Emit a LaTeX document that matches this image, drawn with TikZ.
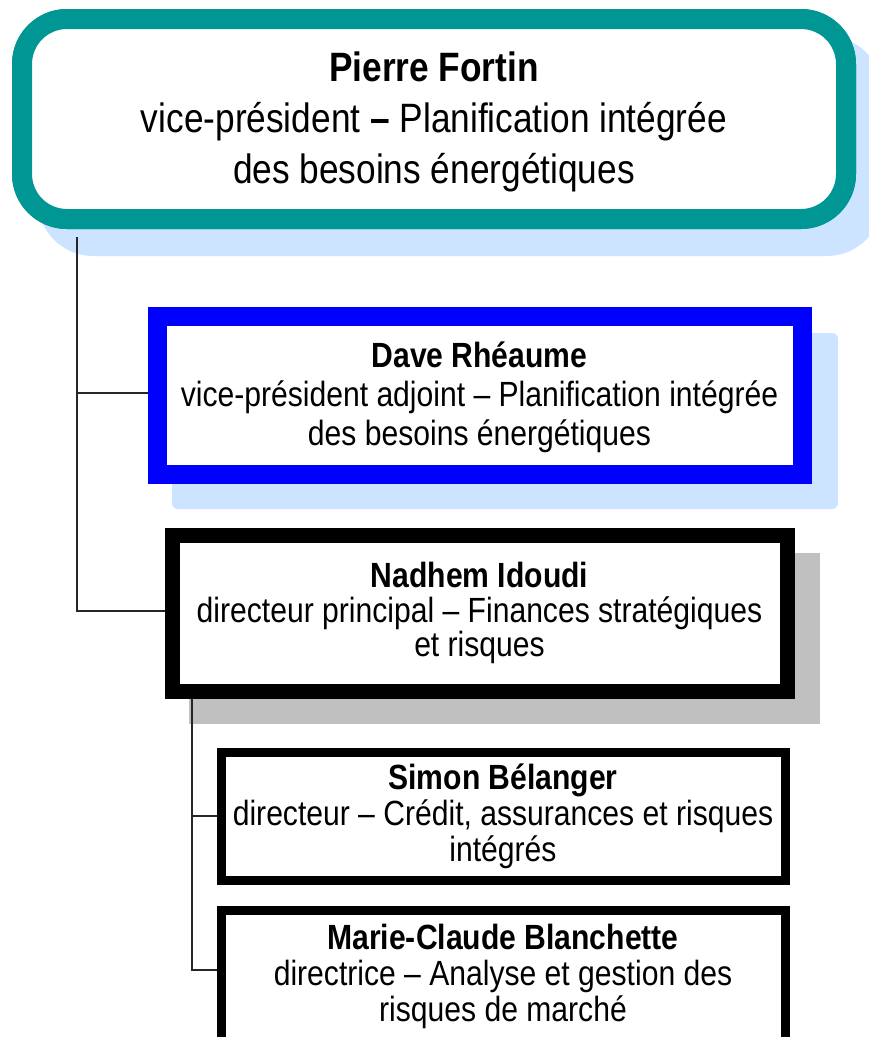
\documentclass[tikz,border=0pt]{standalone}
\usepackage{fontspec}
\setmainfont[FakeStretch=0.86]{Liberation Sans}
\definecolor{tealc}{RGB}{0,150,148}
\definecolor{blueb}{RGB}{0,0,255}
\definecolor{sblue}{RGB}{204,228,255}
\definecolor{sgray}{RGB}{192,192,192}
\newcommand{\toprule}[1]{\rule{0pt}{#1}}
\begin{document}
\begin{tikzpicture}[x=1pt,y=-1pt,
  box/.style={draw, fill=white, align=center, inner sep=0pt, line join=miter},
  topbox/.style={box, draw=tealc, line width=20pt, rounded corners=45pt,
    minimum width=824pt, minimum height=200pt, font=\fontsize{41}{51}\selectfont},
  davebox/.style={box, draw=blueb, line width=19pt,
    minimum width=645pt, minimum height=158pt, font=\fontsize{35}{39}\selectfont},
  nadbox/.style={box, draw=black, line width=15pt,
    minimum width=615pt, minimum height=156pt, font=\fontsize{35}{34.5}\selectfont},
  subbox/.style={box, draw=black, line width=9pt,
    minimum width=564pt, minimum height=128pt, font=\fontsize{35}{36}\selectfont},
  link/.style={draw=black!85, line width=1.5pt}]
\useasboundingbox (0,0) rectangle (869,1037);
\clip (0,0) rectangle (869,1037);
\fill[white] (0,0) rectangle (869,1037);
% shadows
\fill[sblue, rounded corners=55pt] (38,36) rectangle (882,256);
\fill[sblue, rounded corners=6pt] (172,333) rectangle (838,509);
\fill[sgray] (189,553) rectangle (820,724);
% coordinates of connector origins
\coordinate (t0) at (77,237);
\coordinate (n0) at (192,698);
% boxes (defined first for names, drawn after links)
\path (434,119) node[topbox] (pf) {\toprule{36pt}\textbf{Pierre Fortin}\\vice-président \textbf{–} Planification intégrée\\des besoins énergétiques};
\path (479.5,395) node[davebox] (dr) {\toprule{31pt}\textbf{Dave Rhéaume}\\vice-président adjoint – Planification intégrée\\des besoins énergétiques};
\path (479.5,613) node[nadbox] (ni) {\textbf{Nadhem Idoudi}\\directeur principal – Finances stratégiques\\et risques};
\path (503,816) node[subbox] (sb) {\textbf{Simon Bélanger}\\directeur – Crédit, assurances et risques\\intégrés};
\path (503,976) node[subbox, minimum height=132pt] (mb) {\textbf{Marie-Claude Blanchette}\\directrice – Analyse et gestion des\\risques de marché};
% links
\draw[link] (t0) |- ([yshift=2pt]ni.west);
\draw[link] (t0 |- dr.west) ++(0,-2) -- ([yshift=2pt]dr.west);
\draw[link] (n0) |- ([yshift=6pt]mb.west);
\draw[link] (n0 |- sb.west) -- (sb.west);
% redraw boxes on top of links
\path (434,119) node[topbox] {\toprule{36pt}\textbf{Pierre Fortin}\\vice-président \textbf{–} Planification intégrée\\des besoins énergétiques};
\path (479.5,395) node[davebox] {\toprule{31pt}\textbf{Dave Rhéaume}\\vice-président adjoint – Planification intégrée\\des besoins énergétiques};
\path (479.5,613) node[nadbox] {\textbf{Nadhem Idoudi}\\directeur principal – Finances stratégiques\\et risques};
\path (503,816) node[subbox] {\textbf{Simon Bélanger}\\directeur – Crédit, assurances et risques\\intégrés};
\path (503,976) node[subbox, minimum height=132pt] {\textbf{Marie-Claude Blanchette}\\directrice – Analyse et gestion des\\risques de marché};
\end{tikzpicture}
\end{document}
